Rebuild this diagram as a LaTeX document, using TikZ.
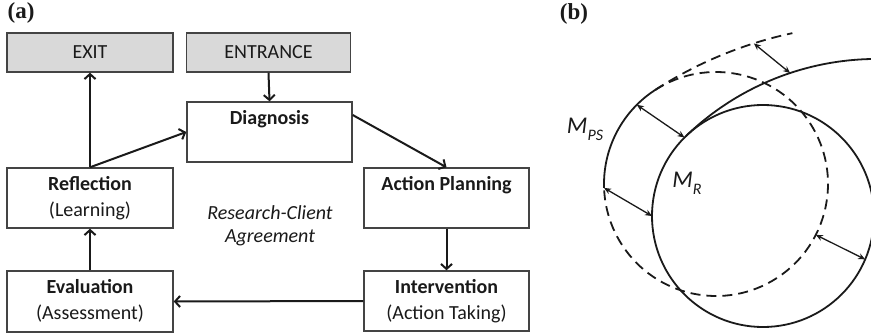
\documentclass[tikz,border=0pt]{standalone}
\usepackage{fontspec}
\setmainfont{Carlito}
\newfontfamily\serifbold{Liberation Serif}
\usetikzlibrary{arrows.meta,calc}
\definecolor{boxfill}{HTML}{D9D9D9}
\definecolor{boxline}{HTML}{444444}
\definecolor{ink}{HTML}{1A1A1A}
\newcommand{\subtxt}[1]{\raisebox{-0.3em}{\fontsize{16}{16}\selectfont #1}}
\begin{document}
\begin{tikzpicture}[x=1pt,y=-1pt,
  box/.style={draw=boxline, line width=1.4pt, minimum width=165pt, minimum height=60pt,
    inner sep=0pt, align=center, font=\fontsize{20}{26}\selectfont, text=ink},
  gbox/.style={box, fill=boxfill, minimum height=39pt},
  flow/.style={draw=ink, line width=2pt, -{Straight Barb[length=5pt,width=11pt]}},
  curve/.style={draw=ink, line width=1.8pt},
  dcurve/.style={curve, dash pattern=on 10pt off 6pt},
  gap/.style={draw=ink, line width=1.3pt, {Stealth[length=7pt,width=6pt]}-{Stealth[length=7pt,width=6pt]}},
  plabel/.style={font=\serifbold\bfseries\fontsize{23}{23}\selectfont, text=ink},
  mlabel/.style={font=\itshape\fontsize{24}{24}\selectfont, text=ink}
  ]
\clip (0,0) rectangle (871,335);
\fill[white] (0,0) rectangle (871,335);

% ---------- panel (a)
\node[plabel] (la) at (21,13) {(a)};
\node[gbox, minimum width=166pt] (exit) at (90,52.5) {EXIT};
\node[gbox, minimum width=164pt] (ent) at (268.5,52.5) {ENTRANCE};
\node[box] (diag) at (269.5,132) {\strut\textbf{Diagnosis}\\\strut};
\node[box, minimum width=166pt] (refl) at (90,198) {\strut\textbf{Reflection}\\\strut(Learning)};
\node[box] (ap) at (446.5,198) {\strut\textbf{Action Planning}\\\strut};
\node[box, minimum width=166pt, minimum height=61pt] (eval) at (90,301.5) {\strut\textbf{Evaluation}\\\strut(Assessment)};
\node[box] (int) at (446.5,301) {\strut\textbf{Intervention}\\\strut(Action Taking)};
\node[align=center, text=ink, font=\itshape\fontsize{20}{23}\selectfont] (rca) at (270,226) {Research-Client\\Agreement};

\draw[flow] (ent.south) -- (diag.north);
\draw[flow] (refl.north) -- (exit.south);
\draw[flow] (refl.north) -- (diag.west);
\draw[flow] ($(diag.east)+(0,-17)$) -- (ap.north);
\draw[flow] (ap.south) -- (int.north);
\draw[flow] (int.west) -- (eval.east);
\draw[flow] (eval.north) -- (refl.south);

% ---------- panel (b)
\node[plabel] (lb) at (574,14) {(b)};
\coordinate (mrc) at (763,216);
\coordinate (psc) at (716,184);
\coordinate (mro) at (877,334.1);
\coordinate (pso) at (877.2,432.3);

\draw[curve] (mrc) circle[radius=111];
\draw[curve] ($(mrc)+(-134:111)$) arc[start angle=-134, end angle=-88, radius=275.1];

\draw[dcurve] ($(psc)+(-123:112)$) arc[start angle=-123, end angle=178, radius=112];
\draw[curve] ($(psc)+(178:112)$) arc[start angle=178, end angle=237, radius=112];
\draw[dcurve] ($(psc)+(-123:112)$) arc[start angle=-123, end angle=-102, radius=408];

\coordinate (g1a) at ($(pso)+(-107.6:408)$);
\coordinate (g1b) at ($(mro)+(-108.4:275.1)$);
\coordinate (g2a) at ($(psc)+(-135:112)$);
\coordinate (g2b) at ($(mrc)+(-135:111)$);
\coordinate (g3a) at ($(psc)+(178:112)$);
\coordinate (g3b) at ($(mrc)+(180:111)$);
\coordinate (g4a) at ($(psc)+(27:112)$);
\coordinate (g4b) at ($(mrc)+(23:111)$);
\draw[gap] (g1a) -- (g1b);
\draw[gap] (g2a) -- (g2b);
\draw[gap] (g3a) -- (g3b);
\draw[gap] (g4a) -- (g4b);

\node[mlabel] (mps) at (585,129) {M\subtxt{PS}};
\node[mlabel] (mr) at (687,183) {M\subtxt{R}};
\end{tikzpicture}
\end{document}
